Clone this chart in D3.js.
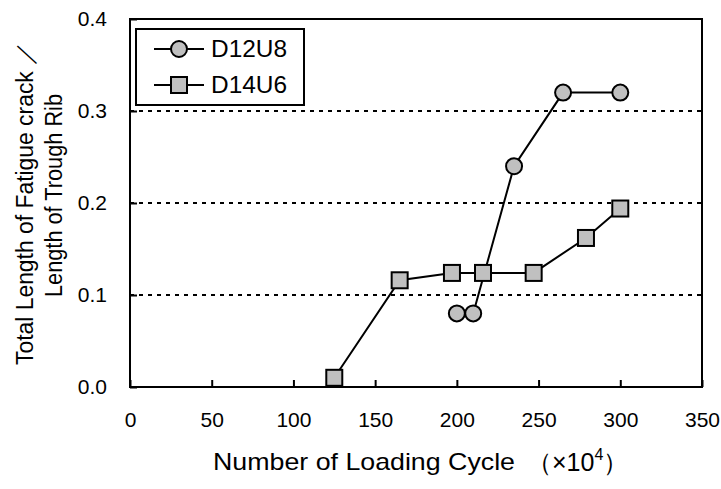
<!DOCTYPE html>
<html><head><meta charset="utf-8">
<script src="https://cdn.jsdelivr.net/npm/d3@7"></script>
<style>body{margin:0;background:#fff}svg{display:block;font-family:"Liberation Sans",Arial,sans-serif}</style>
</head><body><svg id="c" width="721" height="489"></svg>
<script>
const seriesNames = ["D12U8", "D14U6"];
const d12u8X = [200, 210, 235, 265, 300];
const d12u8Y = [0.08, 0.08, 0.24, 0.32, 0.32];
const d14u6X = [125, 165, 197, 216, 247, 279, 300];
const d14u6Y = [0.01, 0.116, 0.124, 0.124, 0.124, 0.162, 0.194];
const xTicks = [0, 50, 100, 150, 200, 250, 300, 350];
const yTicks = [0, 0.1, 0.2, 0.3, 0.4];
const gridY = [0.1, 0.2, 0.3];

const svg = d3.select("#c");
const L = 130, R = 702, T = 19, B = 387;
const x = d3.scaleLinear().domain([0, 350]).range([L, R]);
const y = d3.scaleLinear().domain([0, 0.4]).range([B, T]);

// gridlines
svg.append("g").selectAll("line").data(gridY).join("line")
  .attr("x1", L).attr("x2", R).attr("y1", d => y(d)).attr("y2", d => y(d))
  .attr("stroke", "#000").attr("stroke-width", 2).attr("stroke-dasharray", "4,5");

// x axis with inward ticks
const xa = svg.append("g").attr("transform", `translate(0,${B})`)
  .call(d3.axisBottom(x).tickValues(xTicks).tickSize(-7).tickPadding(25).tickFormat(d3.format("d")));
xa.select(".domain").remove();
xa.selectAll("line").attr("stroke", "#000").attr("stroke-width", 2);
xa.selectAll("text").attr("font-size", 21).attr("fill", "#000").attr("font-family", "Liberation Sans, Arial, sans-serif");

// y axis labels, inward ticks
const ya = svg.append("g").attr("transform", `translate(${L},0)`)
  .call(d3.axisLeft(y).tickValues(yTicks).tickSize(-7).tickPadding(23).tickFormat(d3.format(".1f")));
ya.select(".domain").remove();
ya.selectAll("line").attr("stroke", "#000").attr("stroke-width", 2);
ya.selectAll("text").attr("font-size", 21).attr("fill", "#000").attr("font-family", "Liberation Sans, Arial, sans-serif");

// frame
svg.append("rect").attr("x", L).attr("y", T).attr("width", R - L).attr("height", B - T)
  .attr("fill", "none").attr("stroke", "#000").attr("stroke-width", 2);

const line = d3.line().x(d => x(d[0])).y(d => y(d[1]));
const s1 = d12u8X.map((v, i) => [v, d12u8Y[i]]);
const s2 = d14u6X.map((v, i) => [v, d14u6Y[i]]);

svg.append("path").datum(s2).attr("d", line).attr("fill", "none").attr("stroke", "#000").attr("stroke-width", 2);
svg.append("path").datum(s1).attr("d", line).attr("fill", "none").attr("stroke", "#000").attr("stroke-width", 2);

svg.append("g").selectAll("rect").data(s2).join("rect")
  .attr("x", d => x(d[0]) - 8).attr("y", d => y(d[1]) - 8).attr("width", 16).attr("height", 16)
  .attr("fill", "#c0c0c0").attr("stroke", "#000").attr("stroke-width", 2);
svg.append("g").selectAll("circle").data(s1).join("circle")
  .attr("cx", d => x(d[0])).attr("cy", d => y(d[1])).attr("r", 8)
  .attr("fill", "#c0c0c0").attr("stroke", "#000").attr("stroke-width", 2);

// legend
const lg = svg.append("g");
lg.append("rect").attr("x", 136).attr("y", 29).attr("width", 168).attr("height", 76)
  .attr("fill", "#fff").attr("stroke", "#000").attr("stroke-width", 2);
const ly = [49, 85];
const lb = [57, 93];
seriesNames.forEach((n, i) => {
  lg.append("line").attr("x1", 154).attr("x2", 204).attr("y1", ly[i]).attr("y2", ly[i])
    .attr("stroke", "#000").attr("stroke-width", 2);
  if (i === 0) lg.append("circle").attr("cx", 179).attr("cy", ly[i]).attr("r", 8)
    .attr("fill", "#c0c0c0").attr("stroke", "#000").attr("stroke-width", 2);
  else lg.append("rect").attr("x", 171).attr("y", ly[i] - 8).attr("width", 16).attr("height", 16)
    .attr("fill", "#c0c0c0").attr("stroke", "#000").attr("stroke-width", 2);
  lg.append("text").attr("x", 211).attr("y", lb[i])
    .attr("font-size", 23).attr("textLength", 76).attr("lengthAdjust", "spacingAndGlyphs").text(n);
});

// x axis title
svg.append("text").attr("x", 213).attr("y", 470).attr("font-size", 24)
  .attr("textLength", 302).attr("lengthAdjust", "spacingAndGlyphs").text("Number of Loading Cycle");
const xt2 = svg.append("text").attr("x", 527).attr("y", 471).attr("font-size", 25);
xt2.append("tspan").text("（×10");
xt2.append("tspan").attr("dy", -11).attr("font-size", 16).text("4");
xt2.append("tspan").attr("dy", 11).text("）");

// y axis title
svg.append("text").attr("transform", "translate(33,365) rotate(-90)")
  .attr("font-size", 23).attr("textLength", 323).attr("lengthAdjust", "spacingAndGlyphs")
  .text("Total Length of Fatigue crack ／");
svg.append("text").attr("transform", "translate(62,297) rotate(-90)")
  .attr("font-size", 23).attr("textLength", 203).attr("lengthAdjust", "spacingAndGlyphs")
  .text("Length of Trough Rib");
</script></body></html>
